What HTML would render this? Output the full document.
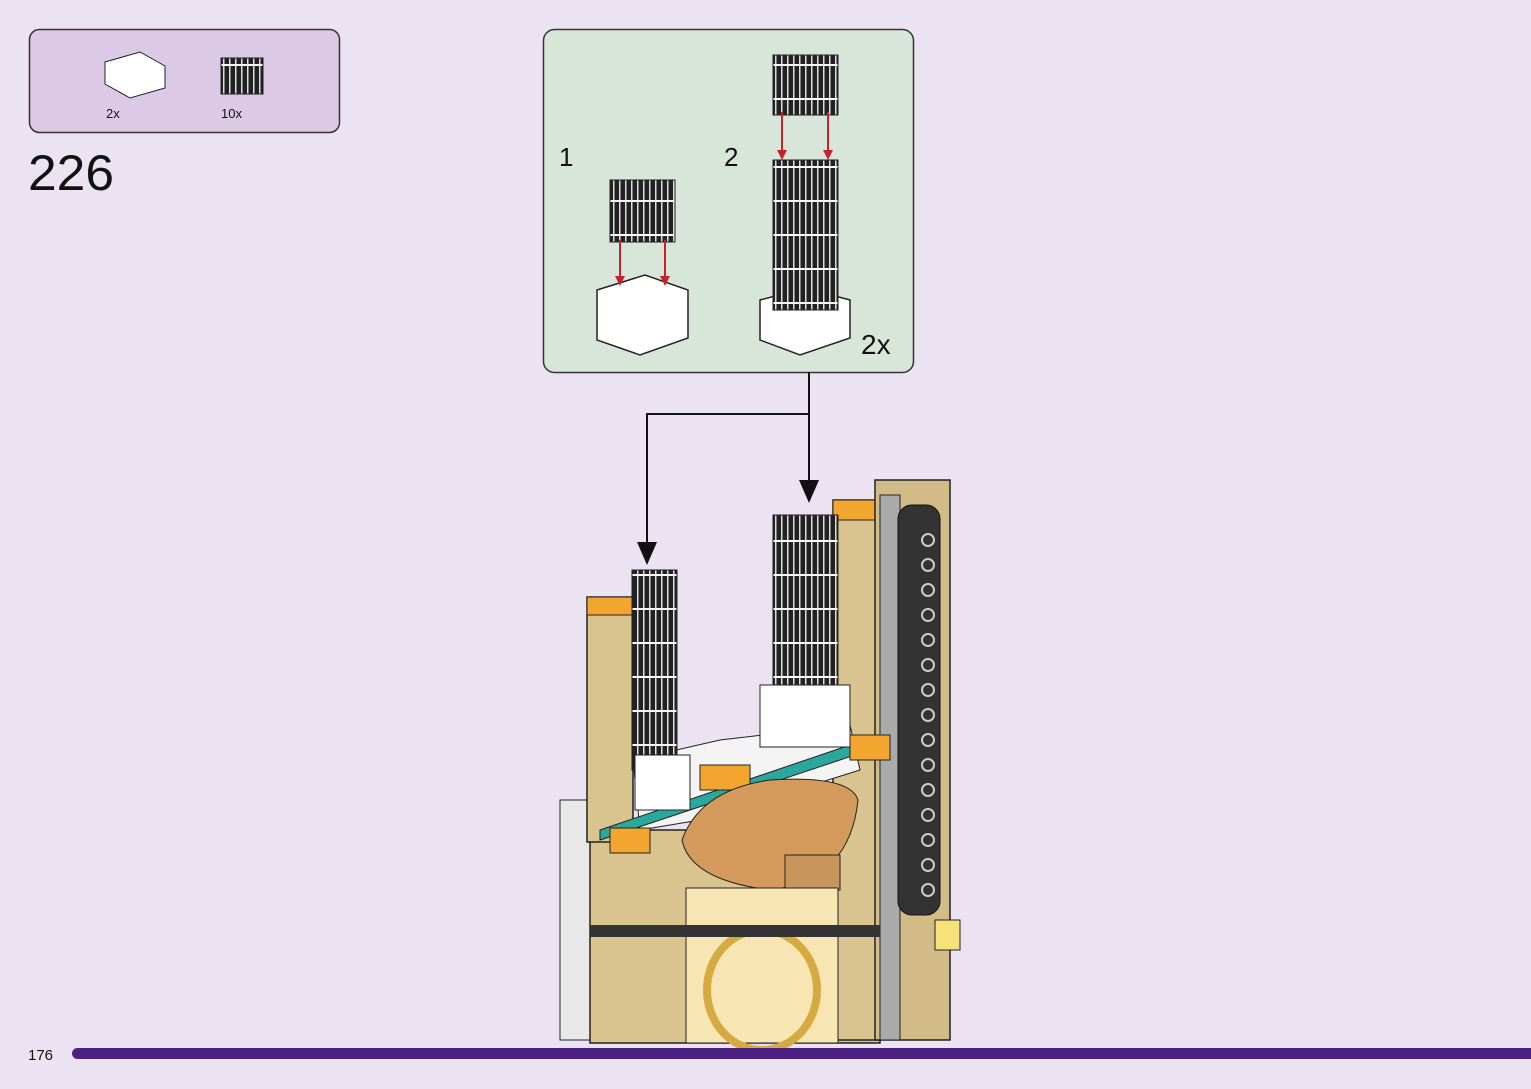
<!DOCTYPE html>
<html><head><meta charset="utf-8"><style>
html,body{margin:0;padding:0;background:#ece3f2;}
body{width:1531px;height:1089px;position:relative;overflow:hidden;font-family:"Liberation Sans",sans-serif;}
</style></head><body>
<svg width="1531" height="1089" viewBox="0 0 1531 1089" xmlns="http://www.w3.org/2000/svg" style="position:absolute;left:0;top:0">
<defs>
<pattern id="rib" width="6" height="34" patternUnits="userSpaceOnUse"><rect width="6" height="34" fill="#222"/><rect x="1" width="1.5" height="34" fill="#ddd"/><rect y="30" width="6" height="2" fill="#fff"/></pattern>
</defs>
<!-- parts box -->
<rect x="29.5" y="29.5" width="310" height="103" rx="10" fill="#dcc9e6" stroke="#333" stroke-width="1.5"/>
<polygon points="105,62 140,52 165,66 165,88 130,98 105,84" fill="#fff" stroke="#222"/>
<rect x="221" y="58" width="42" height="36" fill="url(#rib)" stroke="#222"/>
<text x="106" y="118" font-size="13" fill="#111">2x</text>
<text x="221" y="118" font-size="13" fill="#111">10x</text>
<text x="28" y="190" font-size="50" fill="#111" textLength="86" lengthAdjust="spacingAndGlyphs">226</text>
<!-- sub box -->
<rect x="543.5" y="29.5" width="370" height="343" rx="11" fill="#d8e6da" stroke="#333" stroke-width="1.5"/>
<text x="559" y="166" font-size="26" fill="#111">1</text>
<text x="724" y="166" font-size="26" fill="#111">2</text>
<text x="861" y="354" font-size="28" fill="#111">2x</text>
<polygon points="597,290 645,275 688,290 688,338 640,355 597,340" fill="#fff" stroke="#222" stroke-width="1.5"/>
<rect x="610" y="180" width="65" height="62" fill="url(#rib)" stroke="#222"/>
<line x1="620" y1="240" x2="620" y2="278" stroke="#c8202f" stroke-width="2"/>
<polygon points="615,276 625,276 620,286" fill="#c8202f"/>
<line x1="665" y1="240" x2="665" y2="278" stroke="#c8202f" stroke-width="2"/>
<polygon points="660,276 670,276 665,286" fill="#c8202f"/>
<polygon points="760,300 805,288 850,300 850,338 800,355 760,340" fill="#fff" stroke="#222" stroke-width="1.5"/>
<rect x="773" y="160" width="65" height="150" fill="url(#rib)" stroke="#222"/>
<rect x="773" y="55" width="65" height="60" fill="url(#rib)" stroke="#222"/>
<line x1="782" y1="112" x2="782" y2="152" stroke="#c8202f" stroke-width="2"/>
<polygon points="777,150 787,150 782,160" fill="#c8202f"/>
<line x1="828" y1="112" x2="828" y2="152" stroke="#c8202f" stroke-width="2"/>
<polygon points="823,150 833,150 828,160" fill="#c8202f"/>
<!-- connectors -->
<polyline points="809,372 809,414 647,414 647,545" fill="none" stroke="#111" stroke-width="2"/>
<polygon points="637,542 657,542 647,565" fill="#111"/>
<line x1="809" y1="414" x2="809" y2="482" stroke="#111" stroke-width="2"/>
<polygon points="799,480 819,480 809,503" fill="#111"/>
<!-- model -->
<rect x="560" y="800" width="40" height="240" fill="#e8e8e8" stroke="#222"/>
<rect x="590" y="830" width="290" height="213" fill="#d9c38f" stroke="#222" stroke-width="1.5"/>
<rect x="587" y="597" width="46" height="245" fill="#d9c38f" stroke="#222" stroke-width="1.5"/>
<rect x="587" y="597" width="46" height="18" fill="#f2a630" stroke="#222"/>
<rect x="833" y="500" width="47" height="540" fill="#d9c38f" stroke="#222" stroke-width="1.5"/>
<rect x="833" y="500" width="47" height="20" fill="#f2a630" stroke="#222"/>
<rect x="875" y="480" width="75" height="560" fill="#d2bb86" stroke="#222" stroke-width="1.5"/>
<rect x="880" y="495" width="20" height="545" fill="#aaa" stroke="#222"/>
<rect x="898" y="505" width="42" height="410" rx="14" fill="#333" stroke="#111"/>
<g fill="none" stroke="#ccc" stroke-width="2">
<circle cx="928" cy="540" r="6"/><circle cx="928" cy="565" r="6"/><circle cx="928" cy="590" r="6"/><circle cx="928" cy="615" r="6"/><circle cx="928" cy="640" r="6"/><circle cx="928" cy="665" r="6"/><circle cx="928" cy="690" r="6"/><circle cx="928" cy="715" r="6"/><circle cx="928" cy="740" r="6"/><circle cx="928" cy="765" r="6"/><circle cx="928" cy="790" r="6"/><circle cx="928" cy="815" r="6"/><circle cx="928" cy="840" r="6"/><circle cx="928" cy="865" r="6"/><circle cx="928" cy="890" r="6"/></g>
<polygon points="633,760 720,740 850,725 860,770 700,820 640,830" fill="#f4f4f4" stroke="#222"/>
<polygon points="600,830 850,745 855,755 600,840" fill="#2aa89e" stroke="#222"/>
<rect x="700" y="765" width="50" height="25" fill="#f2a630" stroke="#222"/>
<path d="M682,840 Q700,790 770,780 Q850,775 858,800 Q850,880 770,890 Q690,880 682,840z" fill="#d39a5c" stroke="#222"/>
<rect x="785" y="855" width="55" height="35" fill="#c8965c" stroke="#222"/>
<rect x="686" y="888" width="152" height="155" fill="#f7e6b4" stroke="#222"/>
<ellipse cx="762" cy="990" rx="55" ry="60" fill="none" stroke="#d6aa40" stroke-width="8"/>
<rect x="590" y="925" width="290" height="12" fill="#333"/>
<rect x="632" y="570" width="45" height="200" fill="url(#rib)" stroke="#222"/>
<rect x="635" y="755" width="55" height="55" fill="#fff" stroke="#222"/>
<rect x="773" y="515" width="65" height="175" fill="url(#rib)" stroke="#222"/>
<rect x="760" y="685" width="90" height="62" fill="#fff" stroke="#222"/>
<rect x="610" y="828" width="40" height="25" fill="#f2a630" stroke="#222"/>
<rect x="850" y="735" width="40" height="25" fill="#f2a630" stroke="#222"/>
<rect x="935" y="920" width="25" height="30" fill="#f5e37a" stroke="#222"/>
<!-- footer -->
<text x="28" y="1060" font-size="15" fill="#111">176</text>
<rect x="72" y="1048" width="1470" height="11" rx="5.5" fill="#4b2283"/>
</svg>
</body></html>
